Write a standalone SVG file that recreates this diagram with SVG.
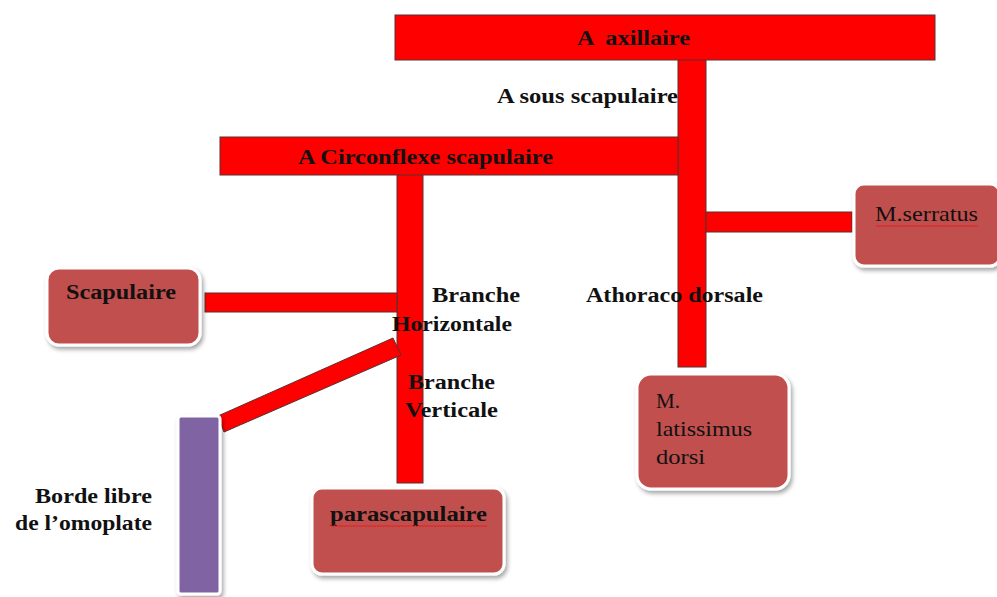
<svg xmlns="http://www.w3.org/2000/svg" width="997" height="597" viewBox="0 0 997 597">
<defs>
<filter id="sh" x="-10%" y="-10%" width="130%" height="130%">
<feDropShadow dx="2" dy="3" stdDeviation="2" flood-color="#000" flood-opacity="0.35"/>
</filter>
<pattern id="wave" width="6" height="4" patternUnits="userSpaceOnUse">
<path d="M0 3 L1.5 1 L3 3 L4.5 1 L6 3" fill="none" stroke="#e02020" stroke-width="0.9"/>
</pattern>
</defs>
<style>
.bar{fill:#ff0000;stroke:#5a3030;stroke-width:1}
.box{fill:#c0504d;stroke:#ffffff;stroke-width:3;filter:url(#sh)}
.pur{fill:#8064a2;stroke:#ffffff;stroke-width:3;filter:url(#sh)}
.b{font-family:"Liberation Serif","Times New Roman",serif;font-weight:bold;font-size:20px;fill:#111}
.n{font-family:"Liberation Serif","Times New Roman",serif;font-size:21px;fill:#111}
</style>
<rect width="997" height="597" fill="#ffffff"/>
<g id="connectors">
<rect class="bar" x="678" y="58" width="28" height="309"/>
<rect class="bar" x="397" y="174" width="26" height="309"/>
<rect class="bar" x="205" y="293" width="192" height="19"/>
<rect class="bar" x="706" y="212" width="146" height="20"/>
<polygon class="bar" points="393,338 401,355 224,432 218,416"/>
</g>
<g id="axillaire">
<rect class="bar" x="395" y="15" width="540" height="45"/>
<text class="b" x="577" y="45" textLength="113" lengthAdjust="spacingAndGlyphs" xml:space="preserve">A  axillaire</text>
</g>
<g id="circonflexe">
<rect class="bar" x="220" y="137" width="458" height="38"/>
<text class="b" x="298" y="164" textLength="255" lengthAdjust="spacingAndGlyphs">A Circonflexe scapulaire</text>
</g>
<g id="labels">
<text class="b" x="497" y="103" textLength="181" lengthAdjust="spacingAndGlyphs">A sous scapulaire</text>
<text class="b" x="432" y="302" textLength="88" lengthAdjust="spacingAndGlyphs">Branche</text>
<text class="b" x="392" y="331" textLength="120" lengthAdjust="spacingAndGlyphs">Horizontale</text>
<text class="b" x="408" y="389" textLength="87" lengthAdjust="spacingAndGlyphs">Branche</text>
<text class="b" x="405" y="417" textLength="93" lengthAdjust="spacingAndGlyphs">Verticale</text>
<text class="b" x="586" y="302" textLength="177" lengthAdjust="spacingAndGlyphs">Athoraco dorsale</text>
<text class="b" x="35" y="503" textLength="117" lengthAdjust="spacingAndGlyphs">Borde libre</text>
<text class="b" x="15" y="530" textLength="137" lengthAdjust="spacingAndGlyphs">de l’omoplate</text>
</g>
<g id="scapulaire">
<rect class="box" x="47" y="268" width="153" height="77" rx="12"/>
<text class="b" x="66" y="299" textLength="110" lengthAdjust="spacingAndGlyphs">Scapulaire</text>
</g>
<g id="borde">
<rect class="pur" x="178" y="416" width="42" height="178" rx="3"/>
</g>
<g id="parascapulaire">
<rect class="box" x="312" y="488" width="192" height="86" rx="10"/>
<text class="b" x="330" y="521" textLength="157" lengthAdjust="spacingAndGlyphs">parascapulaire</text>
<rect x="331" y="523" width="156" height="4" fill="url(#wave)"/>
</g>
<g id="serratus">
<rect class="box" x="854" y="184" width="146" height="82" rx="10"/>
<text class="n" x="875" y="221" textLength="103" lengthAdjust="spacingAndGlyphs">M.serratus</text>
<rect x="876" y="223" width="102" height="4" fill="url(#wave)"/>
</g>
<g id="latissimus">
<rect class="box" x="637" y="374" width="152" height="115" rx="14"/>
<text class="n" x="656" y="408" textLength="24" lengthAdjust="spacingAndGlyphs">M.</text>
<text class="n" x="656" y="436" textLength="96" lengthAdjust="spacingAndGlyphs">latissimus</text>
<text class="n" x="656" y="464" textLength="49" lengthAdjust="spacingAndGlyphs">dorsi</text>
</g>
</svg>
